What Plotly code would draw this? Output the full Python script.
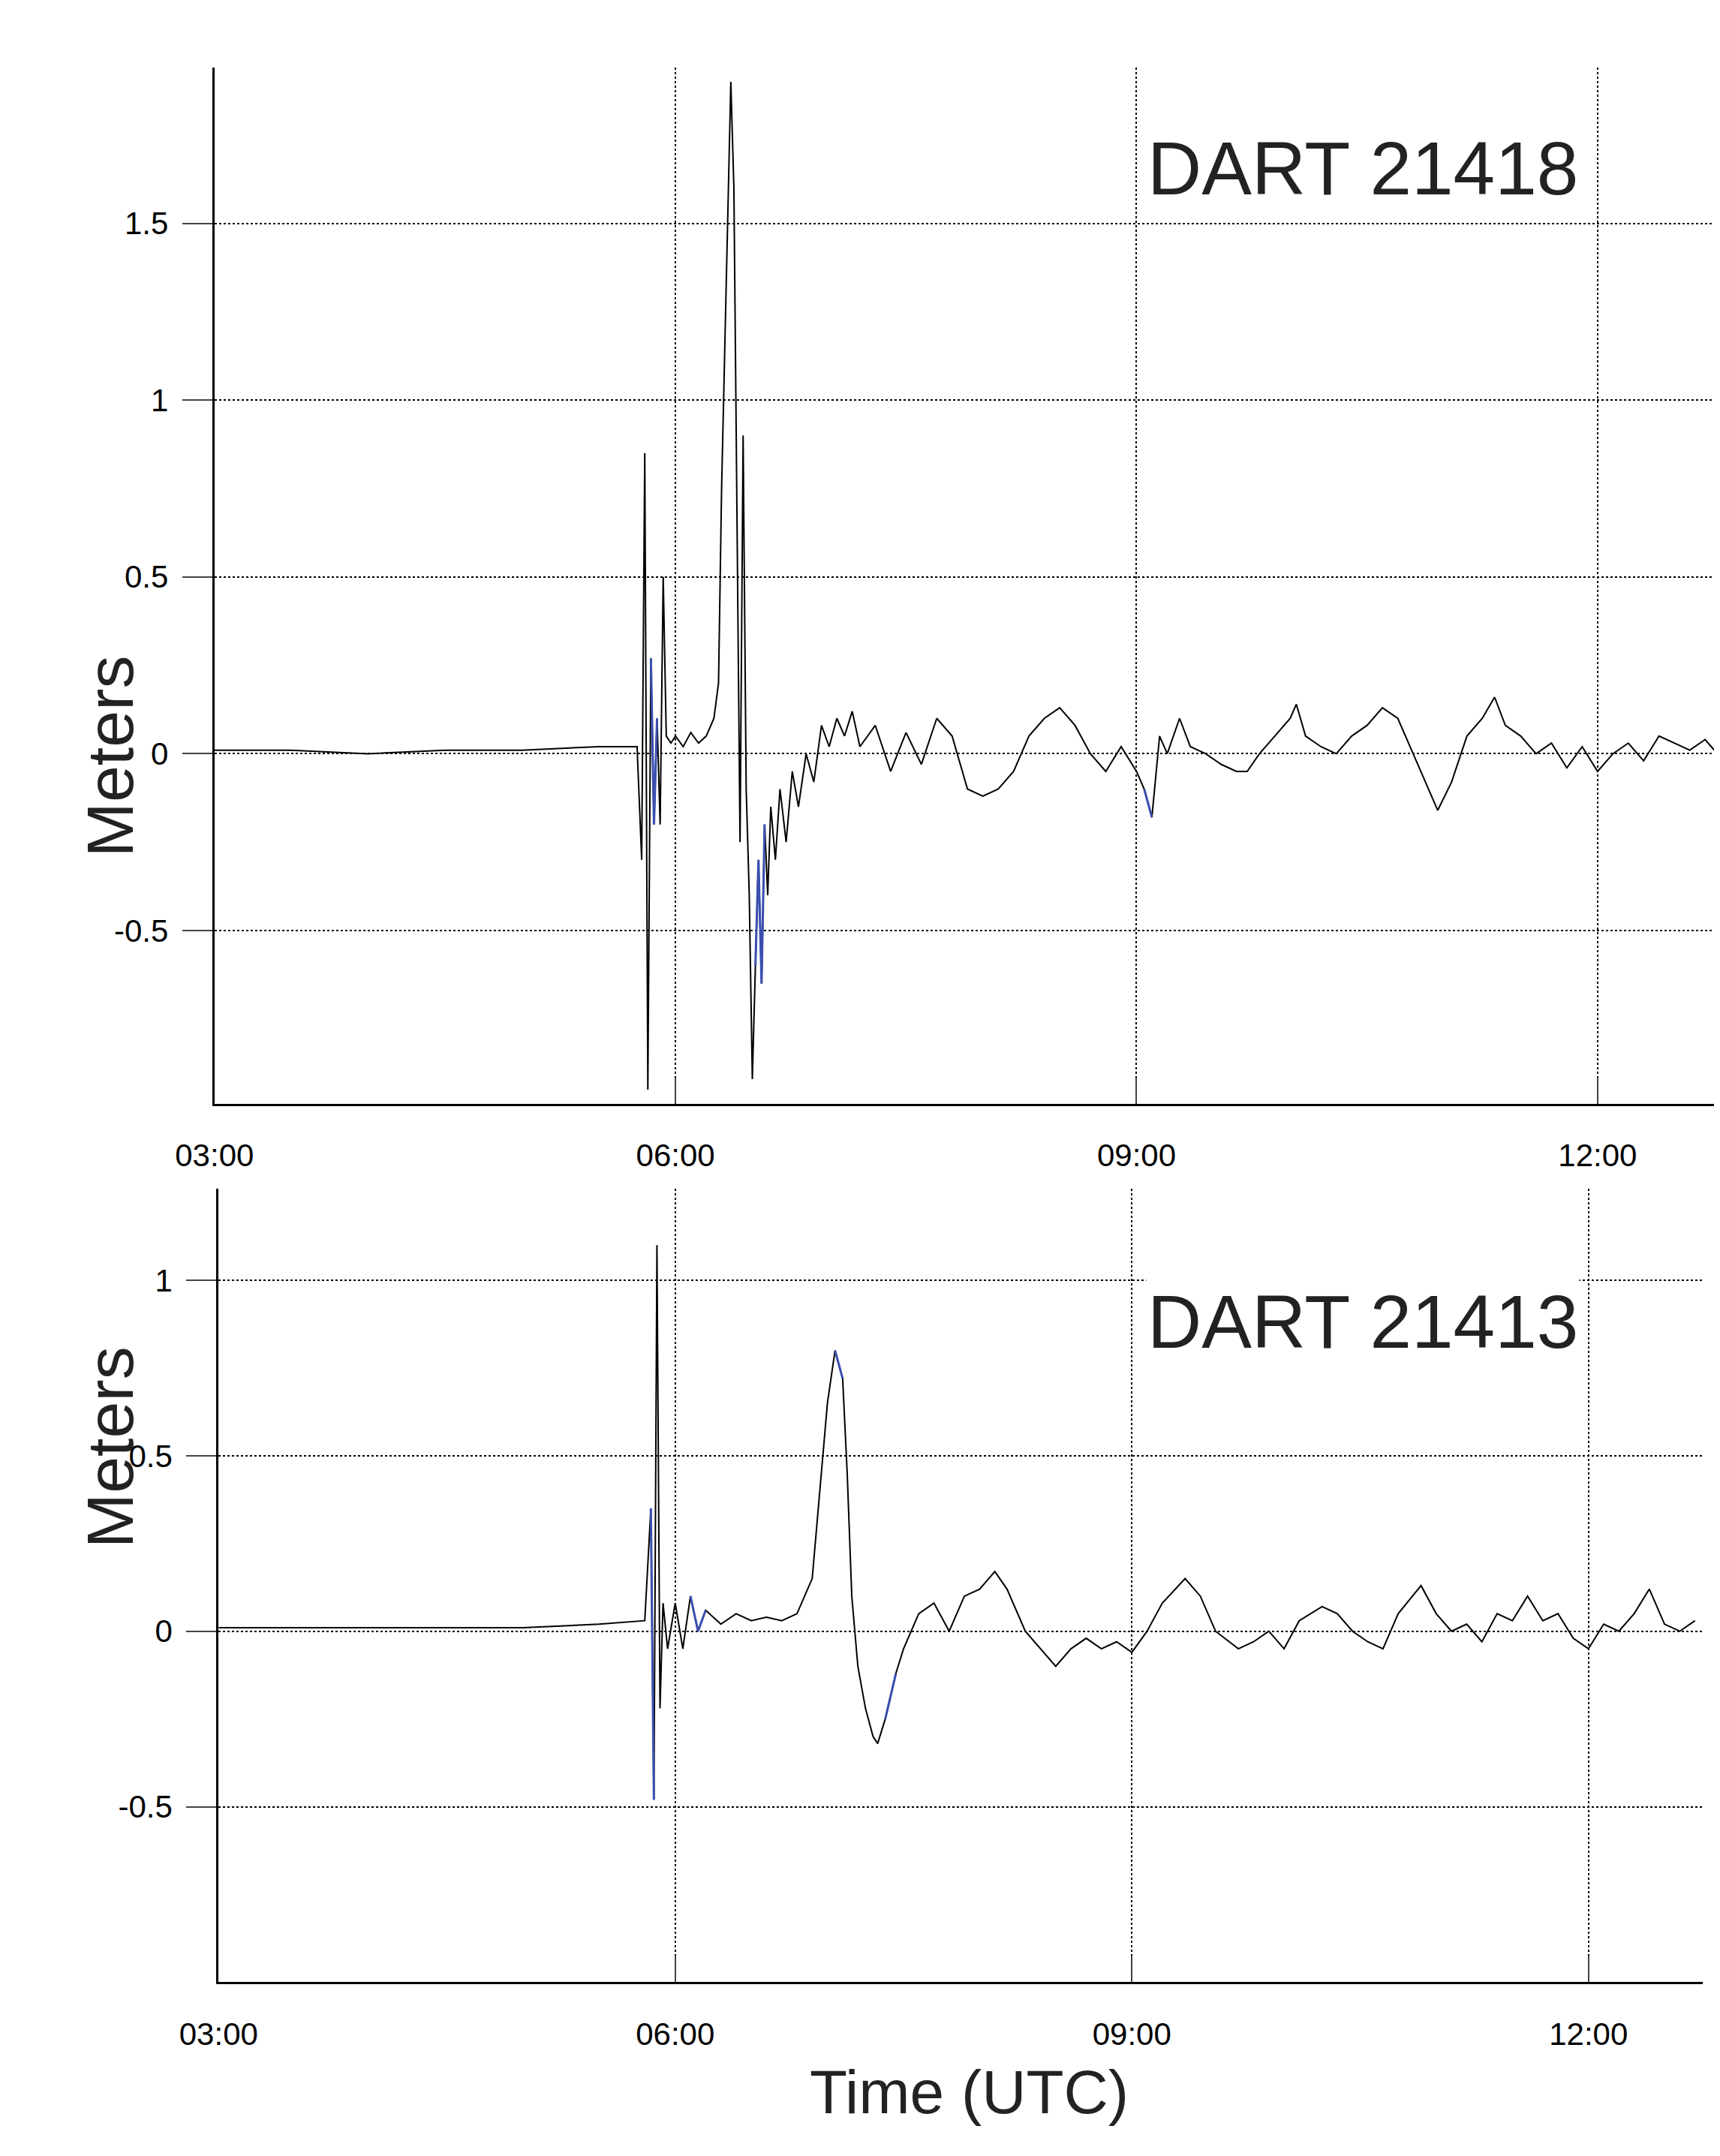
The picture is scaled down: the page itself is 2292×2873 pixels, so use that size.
import plotly.graph_objects as go

# DART 21418 (hours UTC, meters)
t1 = [3.0, 3.5, 4.0, 4.5, 5.0, 5.5, 5.75, 5.78, 5.80, 5.82, 5.84, 5.86, 5.88, 5.90, 5.92, 5.94, 5.97,
      6.0, 6.05, 6.1, 6.15, 6.2, 6.25, 6.28, 6.30, 6.33, 6.36, 6.38, 6.40, 6.42, 6.44, 6.46, 6.48,
      6.50, 6.52, 6.54, 6.56, 6.58, 6.60, 6.62, 6.65, 6.68, 6.72, 6.76, 6.80, 6.85, 6.9, 6.95, 7.0,
      7.05, 7.1, 7.15, 7.2, 7.3, 7.4, 7.5, 7.6, 7.7, 7.8, 7.9, 8.0, 8.1, 8.2, 8.3, 8.4, 8.5, 8.6,
      8.7, 8.8, 8.9, 9.0, 9.05, 9.1, 9.15, 9.2, 9.28, 9.35, 9.45, 9.55, 9.65, 9.72, 9.8, 9.9, 10.0,
      10.04, 10.1, 10.2, 10.3, 10.4, 10.5, 10.6, 10.7, 10.8, 10.9, 10.96, 11.05, 11.15, 11.25,
      11.33, 11.4, 11.5, 11.6, 11.7, 11.8, 11.9, 12.0, 12.1, 12.2, 12.3, 12.4, 12.5, 12.6, 12.7, 12.8]
v1 = [0.01, 0.01, 0.0, 0.01, 0.01, 0.02, 0.02, -0.3, 0.85, -0.95, 0.27, -0.2, 0.1, -0.2, 0.5, 0.05, 0.03,
      0.05, 0.02, 0.06, 0.03, 0.05, 0.1, 0.2, 0.75, 1.35, 1.9, 1.6, 0.7, -0.25, 0.9, -0.1, -0.4,
      -0.92, -0.6, -0.3, -0.65, -0.2, -0.4, -0.15, -0.3, -0.1, -0.25, -0.05, -0.15, 0.0, -0.08, 0.08, 0.02,
      0.1, 0.05, 0.12, 0.02, 0.08, -0.05, 0.06, -0.03, 0.1, 0.05, -0.1, -0.12, -0.1, -0.05, 0.05, 0.1,
      0.13, 0.08, 0.0, -0.05, 0.02, -0.05, -0.1, -0.18, 0.05, 0.0, 0.1, 0.02, 0.0, -0.03, -0.05, -0.05,
      0.0, 0.05, 0.1, 0.14, 0.05, 0.02, 0.0, 0.05, 0.08, 0.13, 0.1, 0.0, -0.1, -0.16, -0.08, 0.05,
      0.1, 0.16, 0.08, 0.05, 0.0, 0.03, -0.04, 0.02, -0.05, 0.0, 0.03, -0.02, 0.05, 0.03, 0.01, 0.04, -0.01, 0.0]

# DART 21413
t2 = [3.0, 3.5, 4.0, 4.5, 5.0, 5.5, 5.8, 5.84, 5.86, 5.88, 5.90, 5.92, 5.95, 6.0, 6.05, 6.1, 6.15,
      6.2, 6.3, 6.4, 6.5, 6.6, 6.7, 6.8, 6.9, 6.95, 7.0, 7.05, 7.1, 7.13, 7.16, 7.2, 7.25, 7.3,
      7.33, 7.38, 7.45, 7.5, 7.6, 7.7, 7.8, 7.9, 8.0, 8.1, 8.18, 8.3, 8.4, 8.5, 8.6, 8.7, 8.8, 8.9,
      9.0, 9.1, 9.2, 9.35, 9.45, 9.55, 9.7, 9.8, 9.9, 10.0, 10.1, 10.25, 10.35, 10.45, 10.55, 10.65,
      10.75, 10.9, 11.0, 11.1, 11.2, 11.3, 11.4, 11.5, 11.6, 11.7, 11.8, 11.9, 12.0, 12.1, 12.2,
      12.3, 12.4, 12.5, 12.6, 12.7]
v2 = [0.01, 0.01, 0.01, 0.01, 0.01, 0.02, 0.03, 0.35, -0.48, 1.1, -0.22, 0.08, -0.05, 0.08, -0.05, 0.1, 0.0,
      0.06, 0.02, 0.05, 0.03, 0.04, 0.03, 0.05, 0.15, 0.4, 0.65, 0.8, 0.72, 0.45, 0.1, -0.1, -0.22, -0.3,
      -0.32, -0.25, -0.12, -0.05, 0.05, 0.08, 0.0, 0.1, 0.12, 0.17, 0.12, 0.0, -0.05, -0.1, -0.05, -0.02, -0.05, -0.03,
      -0.06, 0.0, 0.08, 0.15, 0.1, 0.0, -0.05, -0.03, 0.0, -0.05, 0.03, 0.07, 0.05, 0.0, -0.03, -0.05,
      0.05, 0.13, 0.05, 0.0, 0.02, -0.03, 0.05, 0.03, 0.1, 0.03, 0.05, -0.02, -0.05, 0.02, 0.0,
      0.05, 0.12, 0.02, 0.0, 0.03]

# ranges drawn in blue
blue1 = [(5.84, 5.88), (6.52, 6.58), (7.75, 7.8), (9.05, 9.1)]
blue2 = [(5.84, 5.86), (6.1, 6.2), (7.05, 7.1), (7.38, 7.45)]

ticks_h = [3, 6, 9, 12]
ticks_lbl = ["03:00", "06:00", "09:00", "12:00"]

def masked(t, v, ranges):
    return [val if any(a <= x <= b for a, b in ranges) else None for x, val in zip(t, v)]

fig = go.Figure()
fig.add_trace(go.Scatter(x=t1, y=v1, mode="lines", line=dict(color="black", width=2),
                         xaxis="x", yaxis="y"))
fig.add_trace(go.Scatter(x=t1, y=masked(t1, v1, blue1), mode="lines",
                         line=dict(color="#3a4fb0", width=3), xaxis="x", yaxis="y"))
fig.add_trace(go.Scatter(x=t2, y=v2, mode="lines", line=dict(color="black", width=2),
                         xaxis="x2", yaxis="y2"))
fig.add_trace(go.Scatter(x=t2, y=masked(t2, v2, blue2), mode="lines",
                         line=dict(color="#3a4fb0", width=3), xaxis="x2", yaxis="y2"))

tickfont = dict(family="Liberation Sans", size=42, color="black")
xcommon = dict(tickvals=ticks_h, ticktext=ticks_lbl, ticks="inside", ticklen=35, tickwidth=2,
               showgrid=True, gridcolor="black", griddash="dot", gridwidth=2, zeroline=False,
               showline=True, linecolor="black", linewidth=3, tickfont=tickfont,
               ticklabelstandoff=30, automargin=False)
ycommon = dict(ticks="outside", ticklen=40, tickwidth=2, showgrid=True, gridcolor="black",
               griddash="dot", gridwidth=2, zeroline=False, showline=True, linecolor="black",
               linewidth=3, tickfont=tickfont, ticklabelstandoff=10, automargin=False)

fig.update_layout(
    width=2292, height=2873, plot_bgcolor="white", paper_bgcolor="white", showlegend=False,
    margin=dict(l=0, r=0, t=0, b=0),
    xaxis=dict(domain=[0.1212, 0.9968], range=[3.0, 12.8], anchor="y", **xcommon),
    yaxis=dict(domain=[0.4908, 0.9714], range=[-0.99, 1.94], tickvals=[-0.5, 0, 0.5, 1, 1.5],
               ticktext=["-0.5", "0", "0.5", "1", "1.5"], anchor="x", **ycommon),
    xaxis2=dict(domain=[0.1236, 0.9864], range=[3.0, 12.75], anchor="y2", **xcommon),
    yaxis2=dict(domain=[0.0834, 0.4513], range=[-1.0, 1.26], tickvals=[-0.5, 0, 0.5, 1],
                ticktext=["-0.5", "0", "0.5", "1"], anchor="x2", **ycommon),
)

big = dict(family="Liberation Sans", color="#222222")
fig.add_annotation(text="DART 21418", x=0.915, y=0.945, xref="paper", yref="paper", xanchor="right",
                   showarrow=False, font=dict(size=100, **big), bgcolor="white")
fig.add_annotation(text="DART 21413", x=0.915, y=0.39, xref="paper", yref="paper", xanchor="right",
                   showarrow=False, font=dict(size=100, **big), bgcolor="white")
for yy in [0.652, 0.284]:
    fig.add_annotation(text="Meters", x=0.038, y=yy, xref="paper", yref="paper", textangle=-90,
                       showarrow=False, font=dict(size=88, **big))
fig.add_annotation(text="Time (UTC)", x=0.56, y=0.016, xref="paper", yref="paper",
                   showarrow=False, font=dict(size=82, **big))

fig.write_html("out.html")
